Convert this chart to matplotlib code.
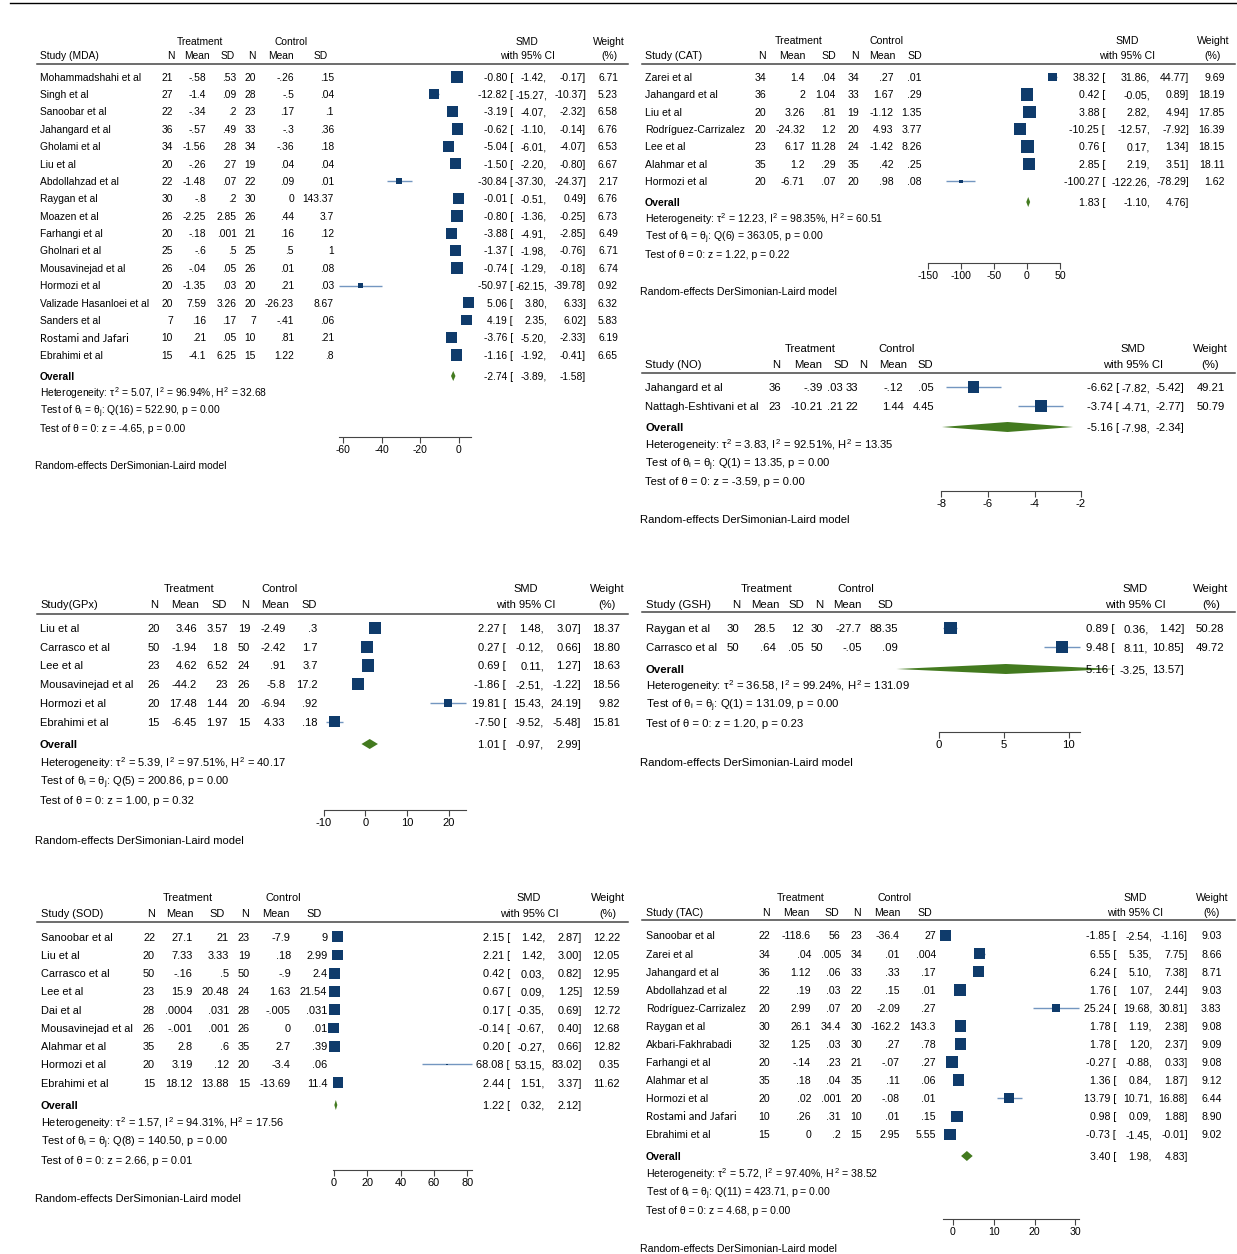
import matplotlib
matplotlib.use("Agg")
import matplotlib.pyplot as plt
import matplotlib.transforms as mtransforms
from matplotlib.lines import Line2D
from matplotlib.patches import Polygon
import numpy as np

plt.rcParams["font.family"] = ["Liberation Sans", "DejaVu Sans"]
plt.rcParams["mathtext.fontset"] = "custom"
plt.rcParams["mathtext.rm"] = "Liberation Sans"
plt.rcParams["mathtext.it"] = "Liberation Sans"
plt.rcParams["mathtext.bf"] = "Liberation Sans:bold"
plt.rcParams["axes.unicode_minus"] = False

# ---------------------------------------------------------------- MDA
MDA_STUDY = ["Mohammadshahi et al", "Singh et al", "Sanoobar et al", "Jahangard et al",
             "Gholami et al", "Liu et al", "Abdollahzad et al", "Raygan et al", "Moazen et al",
             "Farhangi et al", "Gholnari et al", "Mousavinejad et al", "Hormozi et al",
             "Valizade Hasanloei et al", "Sanders et al", "Rostami and Jafari", "Ebrahimi et al"]
MDA_NT = [21, 27, 22, 36, 34, 20, 22, 30, 26, 20, 25, 26, 20, 20, 7, 10, 15]
MDA_MT = ["-.58", "-1.4", "-.34", "-.57", "-1.56", "-.26", "-1.48", "-.8", "-2.25", "-.18",
          "-.6", "-.04", "-1.35", "7.59", ".16", ".21", "-4.1"]
MDA_ST = [".53", ".09", ".2", ".49", ".28", ".27", ".07", ".2", "2.85", ".001", ".5", ".05",
          ".03", "3.26", ".17", ".05", "6.25"]
MDA_NC = [20, 28, 23, 33, 34, 19, 22, 30, 26, 21, 25, 26, 20, 20, 7, 10, 15]
MDA_MC = ["-.26", "-.5", ".17", "-.3", "-.36", ".04", ".09", "0", ".44", ".16", ".5", ".01",
          ".21", "-26.23", "-.41", ".81", "1.22"]
MDA_SC = [".15", ".04", ".1", ".36", ".18", ".04", ".01", "143.37", "3.7", ".12", "1", ".08",
          ".03", "8.67", ".06", ".21", ".8"]
MDA_SMD = [-0.80, -12.82, -3.19, -0.62, -5.04, -1.50, -30.84, -0.01, -0.80, -3.88, -1.37,
           -0.74, -50.97, 5.06, 4.19, -3.76, -1.16]
MDA_LO = [-1.42, -15.27, -4.07, -1.10, -6.01, -2.20, -37.30, -0.51, -1.36, -4.91, -1.98,
          -1.29, -62.15, 3.80, 2.35, -5.20, -1.92]
MDA_HI = [-0.17, -10.37, -2.32, -0.14, -4.07, -0.80, -24.37, 0.49, -0.25, -2.85, -0.76,
          -0.18, -39.78, 6.33, 6.02, -2.33, -0.41]
MDA_W = [6.71, 5.23, 6.58, 6.76, 6.53, 6.67, 2.17, 6.76, 6.73, 6.49, 6.71, 6.74, 0.92,
         6.32, 5.83, 6.19, 6.65]
MDA_OVERALL = [-2.74, -3.89, -1.58]
MDA_HET = ["5.07", "96.94", "32.68"]
MDA_Q = ["16", "522.90", "0.00"]
MDA_Z = ["-4.65", "0.00"]
MDA_TICKS = [-60, -40, -20, 0]

# ---------------------------------------------------------------- CAT
CAT_STUDY = ["Zarei et al", "Jahangard et al", "Liu et al", "Rodríguez-Carrizalez",
             "Lee et al", "Alahmar et al", "Hormozi et al"]
CAT_NT = [34, 36, 20, 20, 23, 35, 20]
CAT_MT = ["1.4", "2", "3.26", "-24.32", "6.17", "1.2", "-6.71"]
CAT_ST = [".04", "1.04", ".81", "1.2", "11.28", ".29", ".07"]
CAT_NC = [34, 33, 19, 20, 24, 35, 20]
CAT_MC = [".27", "1.67", "-1.12", "4.93", "-1.42", ".42", ".98"]
CAT_SC = [".01", ".29", "1.35", "3.77", "8.26", ".25", ".08"]
CAT_SMD = [38.32, 0.42, 3.88, -10.25, 0.76, 2.85, -100.27]
CAT_LO = [31.86, -0.05, 2.82, -12.57, 0.17, 2.19, -122.26]
CAT_HI = [44.77, 0.89, 4.94, -7.92, 1.34, 3.51, -78.29]
CAT_W = [9.69, 18.19, 17.85, 16.39, 18.15, 18.11, 1.62]
CAT_OVERALL = [1.83, -1.10, 4.76]
CAT_HET = ["12.23", "98.35", "60.51"]
CAT_Q = ["6", "363.05", "0.00"]
CAT_Z = ["1.22", "0.22"]
CAT_TICKS = [-150, -100, -50, 0, 50]

# ---------------------------------------------------------------- NO
NO_STUDY = ["Jahangard et al", "Nattagh-Eshtivani et al"]
NO_NT = [36, 23]
NO_MT = ["-.39", "-10.21"]
NO_ST = [".03", ".21"]
NO_NC = [33, 22]
NO_MC = ["-.12", "1.44"]
NO_SC = [".05", "4.45"]
NO_SMD = [-6.62, -3.74]
NO_LO = [-7.82, -4.71]
NO_HI = [-5.42, -2.77]
NO_W = [49.21, 50.79]
NO_OVERALL = [-5.16, -7.98, -2.34]
NO_HET = ["3.83", "92.51", "13.35"]
NO_Q = ["1", "13.35", "0.00"]
NO_Z = ["-3.59", "0.00"]
NO_TICKS = [-8, -6, -4, -2]

# ---------------------------------------------------------------- GPx
GPX_STUDY = ["Liu et al", "Carrasco et al", "Lee et al", "Mousavinejad et al",
             "Hormozi et al", "Ebrahimi et al"]
GPX_NT = [20, 50, 23, 26, 20, 15]
GPX_MT = ["3.46", "-1.94", "4.62", "-44.2", "17.48", "-6.45"]
GPX_ST = ["3.57", "1.8", "6.52", "23", "1.44", "1.97"]
GPX_NC = [19, 50, 24, 26, 20, 15]
GPX_MC = ["-2.49", "-2.42", ".91", "-5.8", "-6.94", "4.33"]
GPX_SC = [".3", "1.7", "3.7", "17.2", ".92", ".18"]
GPX_SMD = [2.27, 0.27, 0.69, -1.86, 19.81, -7.50]
GPX_LO = [1.48, -0.12, 0.11, -2.51, 15.43, -9.52]
GPX_HI = [3.07, 0.66, 1.27, -1.22, 24.19, -5.48]
GPX_W = [18.37, 18.80, 18.63, 18.56, 9.82, 15.81]
GPX_OVERALL = [1.01, -0.97, 2.99]
GPX_HET = ["5.39", "97.51", "40.17"]
GPX_Q = ["5", "200.86", "0.00"]
GPX_Z = ["1.00", "0.32"]
GPX_TICKS = [-10, 0, 10, 20]

# ---------------------------------------------------------------- GSH
GSH_STUDY = ["Raygan et al", "Carrasco et al"]
GSH_NT = [30, 50]
GSH_MT = ["28.5", ".64"]
GSH_ST = ["12", ".05"]
GSH_NC = [30, 50]
GSH_MC = ["-27.7", "-.05"]
GSH_SC = ["88.35", ".09"]
GSH_SMD = [0.89, 9.48]
GSH_LO = [0.36, 8.11]
GSH_HI = [1.42, 10.85]
GSH_W = [50.28, 49.72]
GSH_OVERALL = [5.16, -3.25, 13.57]
GSH_HET = ["36.58", "99.24", "131.09"]
GSH_Q = ["1", "131.09", "0.00"]
GSH_Z = ["1.20", "0.23"]
GSH_TICKS = [0, 5, 10]

# ---------------------------------------------------------------- SOD
SOD_STUDY = ["Sanoobar et al", "Liu et al", "Carrasco et al", "Lee et al", "Dai et al",
             "Mousavinejad et al", "Alahmar et al", "Hormozi et al", "Ebrahimi et al"]
SOD_NT = [22, 20, 50, 23, 28, 26, 35, 20, 15]
SOD_MT = ["27.1", "7.33", "-.16", "15.9", ".0004", "-.001", "2.8", "3.19", "18.12"]
SOD_ST = ["21", "3.33", ".5", "20.48", ".031", ".001", ".6", ".12", "13.88"]
SOD_NC = [23, 19, 50, 24, 28, 26, 35, 20, 15]
SOD_MC = ["-7.9", ".18", "-.9", "1.63", "-.005", "0", "2.7", "-3.4", "-13.69"]
SOD_SC = ["9", "2.99", "2.4", "21.54", ".031", ".01", ".39", ".06", "11.4"]
SOD_SMD = [2.15, 2.21, 0.42, 0.67, 0.17, -0.14, 0.20, 68.08, 2.44]
SOD_LO = [1.42, 1.42, 0.03, 0.09, -0.35, -0.67, -0.27, 53.15, 1.51]
SOD_HI = [2.87, 3.00, 0.82, 1.25, 0.69, 0.40, 0.66, 83.02, 3.37]
SOD_W = [12.22, 12.05, 12.95, 12.59, 12.72, 12.68, 12.82, 0.35, 11.62]
SOD_OVERALL = [1.22, 0.32, 2.12]
SOD_HET = ["1.57", "94.31", "17.56"]
SOD_Q = ["8", "140.50", "0.00"]
SOD_Z = ["2.66", "0.01"]
SOD_TICKS = [0, 20, 40, 60, 80]

# ---------------------------------------------------------------- TAC
TAC_STUDY = ["Sanoobar et al", "Zarei et al", "Jahangard et al", "Abdollahzad et al",
             "Rodríguez-Carrizalez", "Raygan et al", "Akbari-Fakhrabadi", "Farhangi et al",
             "Alahmar et al", "Hormozi et al", "Rostami and Jafari", "Ebrahimi et al"]
TAC_NT = [22, 34, 36, 22, 20, 30, 32, 20, 35, 20, 10, 15]
TAC_MT = ["-118.6", ".04", "1.12", ".19", "2.99", "26.1", "1.25", "-.14", ".18", ".02",
          ".26", "0"]
TAC_ST = ["56", ".005", ".06", ".03", ".07", "34.4", ".03", ".23", ".04", ".001", ".31", ".2"]
TAC_NC = [23, 34, 33, 22, 20, 30, 30, 21, 35, 20, 10, 15]
TAC_MC = ["-36.4", ".01", ".33", ".15", "-2.09", "-162.2", ".27", "-.07", ".11", "-.08",
          ".01", "2.95"]
TAC_SC = ["27", ".004", ".17", ".01", ".27", "143.3", ".78", ".27", ".06", ".01", ".15", "5.55"]
TAC_SMD = [-1.85, 6.55, 6.24, 1.76, 25.24, 1.78, 1.78, -0.27, 1.36, 13.79, 0.98, -0.73]
TAC_LO = [-2.54, 5.35, 5.10, 1.07, 19.68, 1.19, 1.20, -0.88, 0.84, 10.71, 0.09, -1.45]
TAC_HI = [-1.16, 7.75, 7.38, 2.44, 30.81, 2.38, 2.37, 0.33, 1.87, 16.88, 1.88, -0.01]
TAC_W = [9.03, 8.66, 8.71, 9.03, 3.83, 9.08, 9.09, 9.08, 9.12, 6.44, 8.90, 9.02]
TAC_OVERALL = [3.40, 1.98, 4.83]
TAC_HET = ["5.72", "97.40", "38.52"]
TAC_Q = ["11", "423.71", "0.00"]
TAC_Z = ["4.68", "0.00"]
TAC_TICKS = [0, 10, 20, 30]

HEADERS = ["N", "Mean", "SD", "N", "Mean", "SD"]
FOOTER = "Random-effects DerSimonian-Laird model"

NAVY = "#0f3b6b"
CI_BLUE = "#7396c0"
GREEN = "#437a1f"
RULE = "#454545"

W, H = 1237, 1254
fig = plt.figure(figsize=(W / 100, H / 100), dpi=100)
fig.patch.set_facecolor("white")
# pixel coordinates measured from the top-left corner of the canvas
PX = mtransforms.Affine2D().scale(1 / W, -1 / H).translate(0, 1) + fig.transFigure

fig.add_artist(Line2D([10, W], [3, 3], transform=PX, color="black", lw=1.0))


def panel(title, study, nt, mt, st, nc, mc, sc, smd, lo, hi, wt,
          overall, het, qtest, ztest, ticks, L):
    fs = L["fs"]

    def put(x, y, s, ha="right", **kw):
        size = kw.pop("fontsize", fs)
        # y is the visual middle of the capital letters; place the baseline below it
        base = y + 0.358 * size * 100 / 72
        fig.text(x, base, s, transform=PX, ha=ha, va="baseline", fontsize=size, **kw)

    # column headings
    put(L["tc"], L["y1"], "Treatment", "center")
    put(L["cc"], L["y1"], "Control", "center")
    put(L["sx"], L["y2"], title, "left")
    for lab, cx in zip(HEADERS, L["hc"]):
        put(cx, L["y2"], lab, "center")
    put(L["smdc"], L["y1"], "SMD", "center")
    put(L["smdc"], L["y2"], "with 95% CI", "center")
    put(L["wc"], L["y1"], "Weight", "center")
    put(L["wc"], L["y2"], "(%)", "center")
    xl, xr = L["xr_"]
    fig.add_artist(Line2D([xl, xr], [L["yr"], L["yr"]], transform=PX,
                          color=RULE, lw=1.1))

    n = len(study)
    ys = L["y0"] + np.arange(n) * L["step"]
    for i in range(n):
        y = ys[i]
        if study[i] == "Rostami and Jafari":
            put(L["sx"], y, study[i], "left", family="Lato", fontsize=fs * 1.07)
        else:
            put(L["sx"], y, study[i], "left")
        for val, cx in zip([nt[i], mt[i], st[i], nc[i], mc[i], sc[i]], L["cols"]):
            put(cx, y, str(val))
        put(L["smdx"], y, f"{smd[i]:.2f} [")
        put(L["lox"], y, f"{lo[i]:.2f},")
        put(L["hix"], y, f"{hi[i]:.2f}]")
        put(L["wx"], y, f"{wt[i]:.2f}")

    yo = L["yo"]
    put(L["sx"], yo, "Overall", "left", fontweight="bold")
    put(L["smdx"], yo, f"{overall[0]:.2f} [")
    put(L["lox"], yo, f"{overall[1]:.2f},")
    put(L["hix"], yo, f"{overall[2]:.2f}]")

    yh, ss = L["yh"], L["ss"]
    put(L["sx"], yh, r"Heterogeneity: $\tau^2$ = %s, $I^2$ = %s%%, $H^2$ = %s" % tuple(het), "left")
    put(L["sx"], yh + ss, r"Test of $\theta_\mathrm{i}$ = $\theta_\mathrm{j}$: Q(%s) = %s, p = %s"
        % tuple(qtest), "left")
    put(L["sx"], yh + 2 * ss, "Test of θ = 0: z = %s, p = %s" % tuple(ztest), "left")
    put(L["fx"], L["yf"], FOOTER, "left")

    # effect-size plot area: x in SMD units, y in canvas pixel rows
    ax = fig.add_axes([xl / W, 1 - L["yax"] / H, (xr - xl) / W, (L["yax"] - L["ytop"]) / H])
    z, p = L["zero"], L["ppu"]
    ax.set_xlim((xl - z) / p, (xr - z) / p)
    ax.set_ylim(L["yax"], L["ytop"])
    ax.patch.set_alpha(0)
    for s in ("top", "left", "right"):
        ax.spines[s].set_visible(False)
    ax.spines["bottom"].set_color(RULE)
    ax.spines["bottom"].set_linewidth(0.8)
    ax.spines["bottom"].set_bounds(min(min(lo), ticks[0]), max(max(hi), ticks[-1]))
    ax.set_yticks([])
    ax.set_xticks(ticks)
    ax.set_xticklabels([str(t) for t in ticks])
    ax.tick_params(axis="x", direction="out", length=4, width=0.8, color=RULE,
                   labelsize=fs, pad=2)

    for i in range(n):
        ax.plot([lo[i], hi[i]], [ys[i], ys[i]], color=CI_BLUE, lw=1.0,
                solid_capstyle="butt", clip_on=False, zorder=2)
    wmax = max(wt)
    sides = L["msz"] * np.sqrt(np.array(wt) / wmax) * 0.72
    ax.scatter(smd, ys, marker="s", s=sides ** 2, color=NAVY, linewidths=0,
               clip_on=False, zorder=3)
    dh = L["dh"]
    ax.add_patch(Polygon([[overall[1], yo], [overall[0], yo - dh], [overall[2], yo],
                          [overall[0], yo + dh]], closed=True, facecolor=GREEN,
                         edgecolor="none", clip_on=False, zorder=3))


LEFT = dict(sx=40, fx=35, xr_=(37, 628))
RIGHT = dict(sx=645, fx=640, xr_=(642, 1235))

L_MDA = dict(LEFT, fs=7.4, cols=[173, 206, 236.5, 256, 294, 334],
             hc=[171, 196.5, 228, 251.5, 281, 321], tc=200, cc=291,
             smdx=513, lox=547, hix=586, wx=618, smdc=527, wc=609,
             y1=41, y2=55, yr=64, y0=77, step=17.375, yo=376, yh=393.5, ss=17.3,
             yax=437, ytop=30, yf=465, zero=458.5, ppu=1.923, msz=11.3, dh=5)
L_CAT = dict(RIGHT, fs=7.55, cols=[766, 805, 836, 859, 893.5, 922],
             hc=[762, 792, 828.5, 855, 882, 914.6], tc=798.5, cc=887,
             smdx=1105, lox=1150, hix=1189, wx=1225, smdc=1127, wc=1213,
             y1=40, y2=55, yr=64, y0=77, step=17.4, yo=202, yh=219.5, ss=17.3,
             yax=263, ytop=30, yf=291, zero=1027, ppu=0.659, msz=12.3, dh=5)
L_NO = dict(RIGHT, fs=8.1, cols=[781, 822.7, 842.7, 858, 903.5, 934],
            hc=[776.5, 808, 841.5, 863, 892.7, 925], tc=810, cc=896.5,
            smdx=1119, lox=1150, hix=1184, wx=1225, smdc=1133, wc=1210,
            y1=348, y2=364, yr=373, y0=387, step=19, yo=427, yh=445, ss=18,
            yax=491, ytop=340, yf=519, zero=1127.6, ppu=23.27, msz=12, dh=5)
L_GPX = dict(LEFT, fs=8.0, cols=[159.6, 197, 228, 250, 285.8, 317.7],
             hc=[154, 185, 219, 245, 274.6, 308.8], tc=188.8, cc=279,
             smdx=506, lox=544, hix=581, wx=620, smdc=526, wc=607,
             y1=588, y2=604, yr=614, y0=628, step=18.75, yo=744, yh=763, ss=18.6,
             yax=810, ytop=580, yf=840, zero=365.5, ppu=4.16, msz=12.2, dh=5)
L_GSH = dict(RIGHT, sx=646, fs=8.2, cols=[739.6, 775.8, 804, 823.5, 862, 897.7],
             hc=[735.8, 765.8, 796.5, 819.6, 847.7, 885], tc=767, cc=856,
             smdx=1114, lox=1148.5, hix=1184, wx=1224, smdc=1135, wc=1211,
             y1=588, y2=604, yr=612, y0=628, step=19, yo=669, yh=686, ss=18.3,
             yax=732, ytop=580, yf=762, zero=938.8, ppu=13.0, msz=12.7, dh=5)
L_SOD = dict(LEFT, sx=40.8, fs=7.95, cols=[155, 192.7, 229, 250, 290.8, 327.3],
             hc=[151, 180, 217, 245, 276, 314.6], tc=187.7, cc=283.8,
             smdx=510, lox=545, hix=582, wx=620, smdc=529, wc=608,
             y1=897, y2=913, yr=922, y0=936.7, step=18.25, yo=1105, yh=1123, ss=18.5,
             yax=1170, ytop=890, yf=1198, zero=333.8, ppu=1.668, msz=11, dh=5)
L_TAC = dict(RIGHT, sx=645.8, fs=7.6, cols=[770, 811, 840.8, 862, 900, 936],
             hc=[765.8, 796.5, 832, 857, 887, 924.6], tc=801, cc=894.6,
             smdx=1116, lox=1152, hix=1187.7, wx=1221.5, smdc=1135, wc=1212,
             y1=897, y2=912, yr=920, y0=935.7, step=18.05, yo=1156, yh=1174, ss=18,
             yax=1219, ytop=890, yf=1248, zero=953, ppu=4.077, msz=11.5, dh=5)

panel("Study (MDA)", MDA_STUDY, MDA_NT, MDA_MT, MDA_ST, MDA_NC, MDA_MC, MDA_SC,
      MDA_SMD, MDA_LO, MDA_HI, MDA_W, MDA_OVERALL, MDA_HET, MDA_Q, MDA_Z, MDA_TICKS, L_MDA)
panel("Study (CAT)", CAT_STUDY, CAT_NT, CAT_MT, CAT_ST, CAT_NC, CAT_MC, CAT_SC,
      CAT_SMD, CAT_LO, CAT_HI, CAT_W, CAT_OVERALL, CAT_HET, CAT_Q, CAT_Z, CAT_TICKS, L_CAT)
panel("Study (NO)", NO_STUDY, NO_NT, NO_MT, NO_ST, NO_NC, NO_MC, NO_SC,
      NO_SMD, NO_LO, NO_HI, NO_W, NO_OVERALL, NO_HET, NO_Q, NO_Z, NO_TICKS, L_NO)
panel("Study(GPx)", GPX_STUDY, GPX_NT, GPX_MT, GPX_ST, GPX_NC, GPX_MC, GPX_SC,
      GPX_SMD, GPX_LO, GPX_HI, GPX_W, GPX_OVERALL, GPX_HET, GPX_Q, GPX_Z, GPX_TICKS, L_GPX)
panel("Study (GSH)", GSH_STUDY, GSH_NT, GSH_MT, GSH_ST, GSH_NC, GSH_MC, GSH_SC,
      GSH_SMD, GSH_LO, GSH_HI, GSH_W, GSH_OVERALL, GSH_HET, GSH_Q, GSH_Z, GSH_TICKS, L_GSH)
panel("Study (SOD)", SOD_STUDY, SOD_NT, SOD_MT, SOD_ST, SOD_NC, SOD_MC, SOD_SC,
      SOD_SMD, SOD_LO, SOD_HI, SOD_W, SOD_OVERALL, SOD_HET, SOD_Q, SOD_Z, SOD_TICKS, L_SOD)
panel("Study (TAC)", TAC_STUDY, TAC_NT, TAC_MT, TAC_ST, TAC_NC, TAC_MC, TAC_SC,
      TAC_SMD, TAC_LO, TAC_HI, TAC_W, TAC_OVERALL, TAC_HET, TAC_Q, TAC_Z, TAC_TICKS, L_TAC)

fig.savefig("out.png", dpi=100, facecolor="white")
